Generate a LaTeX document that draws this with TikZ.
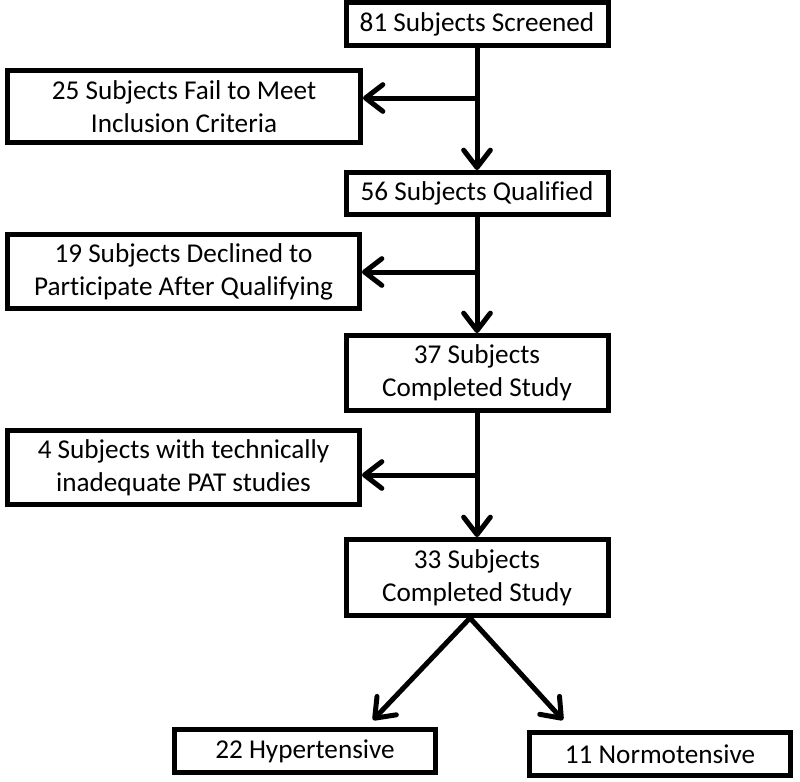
\documentclass[tikz,border=0pt]{standalone}
\usepackage{fontspec}
\setmainfont[Ligatures=NoCommon]{Carlito}
\usetikzlibrary{arrows.meta}
\begin{document}
\begin{tikzpicture}[x=0.75pt,y=-0.75pt,
  box/.style={draw=black, line width=3.75pt, inner sep=0pt, align=center,
    font=\fontsize{20.4}{24.8}\selectfont, minimum width=#1},
  box/.default=196.5pt,
  arr/.style={line width=3.75pt, -{Straight Barb[length=13pt,width=20pt,line cap=round,line join=round]}}
]
\useasboundingbox (0,0) rectangle (800,782);
\node[box, minimum height=32.25pt] (b1) at (477,24) {81 Subjects Screened};
\node[box=264.75pt, minimum height=54pt] (b2) at (184,106.5) {25 Subjects Fail to Meet\\Inclusion Criteria};
\node[box, minimum height=31.5pt] (b3) at (477,193.5) {56 Subjects Qualified};
\node[box=264pt, minimum height=55.5pt] (b4) at (183.5,271.5) {19 Subjects Declined to\\Participate After Qualifying};
\node[box, minimum height=56.25pt] (b5) at (477,373) {37 Subjects\\Completed Study};
\node[box=264pt, minimum height=55.5pt] (b6) at (183.5,467.5) {4 Subjects with technically\\inadequate PAT studies};
\node[box, minimum height=57pt] (b7) at (477,577.5) {33 Subjects\\Completed Study};
\node[box=195.75pt, minimum height=32.25pt] (b8) at (305,751) {22 Hypertensive};
\node[box=195.75pt, minimum height=32.25pt] (b9) at (660,754) {11 Normotensive};
\coordinate (j1) at (477,98);
\coordinate (j2) at (477,272);
\coordinate (j3) at (477,475);
\draw[arr] (b1.south) -- (b3.north);
\draw[arr] (j1) -- (j1 -| b2.east);
\draw[arr] (b3.south) -- (b5.north);
\draw[arr] (j2) -- (j2 -| b4.east);
\draw[arr] (b5.south) -- (b7.north);
\draw[arr] (j3) -- (j3 -| b6.east);
\draw[arr] ([xshift=-5.25pt]b7.south) -- ([shift={(68,-7)}]b8.north);
\draw[arr] ([xshift=-5.25pt]b7.south) -- ([shift={(-97,-10)}]b9.north);
\end{tikzpicture}
\end{document}
